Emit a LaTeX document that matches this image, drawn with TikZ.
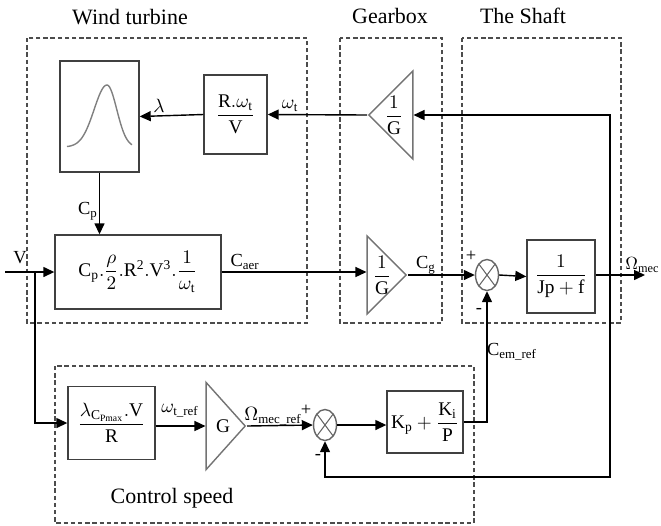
\documentclass[tikz,border=0pt]{standalone}
\usepackage{amsmath}
\usepackage{fontspec}
\setmainfont{Liberation Serif}
\usetikzlibrary{arrows.meta, positioning, shapes.geometric}

\begin{document}
\begin{tikzpicture}[x=0.02cm, y=-0.02cm, font=\fontsize{11}{13}\selectfont,
    blk/.style={draw=black!75, line width=0.8pt, inner sep=1pt, align=center},
    gain/.style={draw=black!55, line width=0.8pt, isosceles triangle,
                 isosceles triangle stretches, inner sep=0pt},
    sumnode/.style={draw=black!60, line width=0.8pt, ellipse, inner sep=0pt,
                 minimum width=0.46cm, minimum height=0.62cm,
                 path picture={\draw[black!60, line width=0.6pt]
                   (path picture bounding box.south west) -- (path picture bounding box.north east)
                   (path picture bounding box.north west) -- (path picture bounding box.south east);}},
    region/.style={draw=black!70, line width=0.8pt, dash pattern=on 2.5pt off 1.6pt},
    arr/.style={-{Triangle[length=2.2mm, width=2mm]}, line width=0.8pt},
    ttl/.style={font=\fontsize{12.5}{14}\selectfont},
    sgn/.style={font=\fontsize{10.5}{12}\selectfont, inner sep=0pt}
  ]
    \useasboundingbox (0,0) rectangle (661,525);

    % dashed regions
    \draw[region] (27,38) rectangle (307,323);
    \draw[region] (340,38) rectangle (442,323);
    \draw[region] (462,38) rectangle (621,323);
    \draw[region] (55,366) rectangle (474,523);
    \node[ttl] (twind) at (130,17) {Wind turbine};
    \node[ttl] (tgear) at (390,16) {Gearbox};
    \node[ttl] (tshaft) at (523,16) {The Shaft};
    \node[ttl] (tctrl) at (172,498) {Control speed};

    % wind turbine
    \node[blk, minimum width=1.58cm, minimum height=2.22cm] (cpbox) at (99.5,116.5) {};
    \draw[black!50, line width=0.8pt] plot[domain=67:132, samples=70, smooth]
        (\x, {147 - 62*exp(-((\x-107)^2)/(\x<107 ? 330 : 190))});
    \node[blk, minimum width=1.26cm, minimum height=1.58cm] (lambox) at (235.5,114.5)
        {$\dfrac{\mathrm{R.}\omega_{\mathrm{t}}}{\mathrm{V}}$};
    \node[blk, minimum width=3.32cm, minimum height=1.48cm] (bigbox) at (138,272)
        {$\mathrm{C_p.}\dfrac{\rho}{2}\mathrm{.R^2.V^3.}\dfrac{1}{\omega_{\mathrm{t}}}$};

    % gearbox
    \node[gain, shape border rotate=180, minimum width=1.76cm, minimum height=0.88cm,
          anchor=apex] (gfb) at (367,115) {};
    \node (gfbt) at (394,115) {$\dfrac{1}{\mathrm{G}}$};
    \node[gain, minimum width=1.56cm, minimum height=0.78cm,
          anchor=apex] (cg) at (408,275) {};
    \node (cgt) at (382,275) {$\dfrac{1}{\mathrm{G}}$};

    % shaft
    \node[sumnode] (sum1) at (487,275) {};
    \node[blk, minimum width=1.36cm, minimum height=1.46cm] (jbox) at (561,276.5)
        {$\dfrac{1}{\mathrm{Jp+f}}$};
    \coordinate (tap) at (610,275);
    \coordinate (out) at (645,275);
    \coordinate (fbbot) at (610,477);

    % control speed
    \coordinate (vin) at (5,272);
    \coordinate (vsplit) at (35,272);
    \node[blk, minimum width=1.74cm, minimum height=1.46cm] (lrbox) at (111.5,423)
        {$\dfrac{\lambda_{\mathrm{C}_{\mathrm{Pmax}}}\mathrm{.V}}{\mathrm{R}}$};
    \node[gain, minimum width=1.74cm, minimum height=0.78cm,
          anchor=apex] (gref) at (247,426) {};
    \node (greft) at (223,426) {G};
    \node[sumnode] (sum2) at (325,425) {};
    \node[blk, minimum width=1.52cm, minimum height=1.24cm] (pibox) at (425,422)
        {$\mathrm{K_p}+\dfrac{\mathrm{K_i}}{\mathrm{P}}$};

    % connectors
    \draw[arr] (tap) |- (gfb.east);
    \draw[arr] (gfb.apex) -- (lambox.east);
    \draw[arr] (lambox.west) -- (cpbox.east);
    \draw[arr] (cpbox.south) -- (cpbox.south |- bigbox.north);
    \draw[arr] (vin) -- (bigbox.west);
    \draw[arr] (vsplit) |- (lrbox.west);
    \draw[arr] (bigbox.east) -- (bigbox.east -| cg.west);
    \draw[arr] (cg.apex) -- (sum1.west);
    \draw[arr] (sum1.east) -- (jbox.west);
    \draw[arr] (jbox.east |- out) -- (out);
    \draw[arr] (tap) -- (fbbot) -| (sum2.south);
    \draw[arr] (lrbox.east |- gref.apex) -- (gref.west);
    \draw[arr] (gref.apex) -- (sum2.west);
    \draw[arr] (sum2.east) -- (sum2.east -| pibox.west);
    \draw[arr] (pibox.east) -| (sum1.south);

    % signal labels
    \node[sgn] (llam) at (159,106) {$\lambda$};
    \node[sgn] (lomt) at (290,106) {$\omega_{\mathrm{t}}$};
    \node[sgn] (lcp) at (88,211) {C\textsubscript{p}};
    \node[sgn] (lv) at (20,258) {V};
    \node[sgn] (lcaer) at (245,262) {C\textsubscript{aer}};
    \node[sgn] (lcg) at (426,265) {C\textsubscript{g}};
    \node[sgn] (lp1) at (471,256) {+};
    \node[sgn] (lm1) at (479,311) {-};
    \node[sgn, anchor=west, font=\fontsize{10}{12}\selectfont] (lomo) at (625,265) {$\Omega_{\mathrm{mec}}$};
    \node[sgn] (lomr) at (180,411) {$\omega_{\mathrm{t\_ref}}$};
    \node[sgn] (lOmr) at (273,416) {$\Omega_{\mathrm{mec\_ref}}$};
    \node[sgn] (lp2) at (306,410) {+};
    \node[sgn] (lm2) at (318,457) {-};
    \node[sgn] (lcem) at (512,352) {C\textsubscript{em\_ref}};
  \end{tikzpicture}
\end{document}
